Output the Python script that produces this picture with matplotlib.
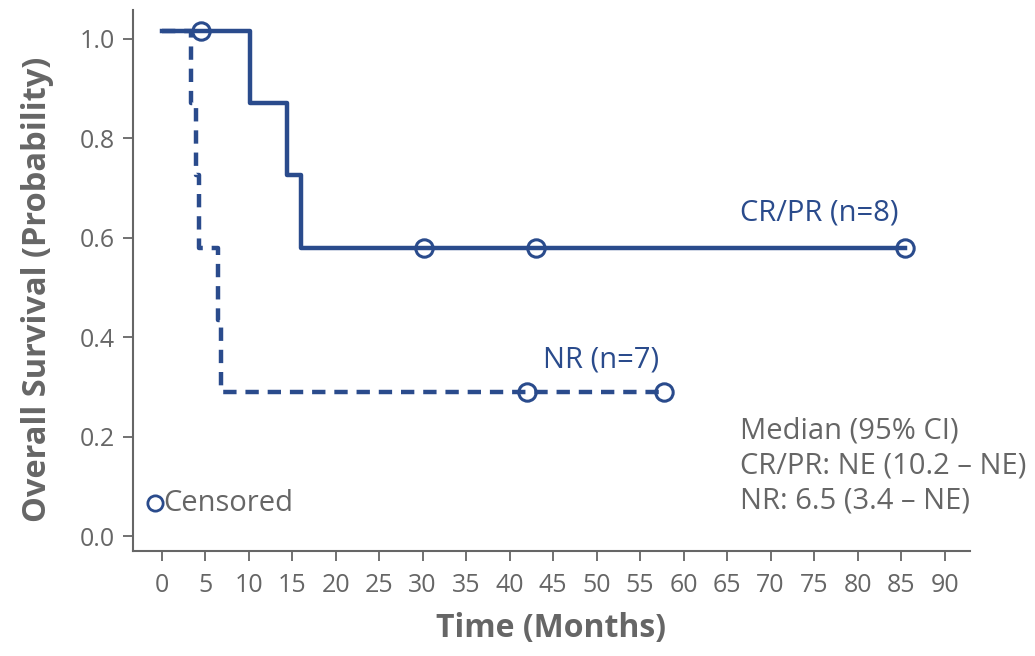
import matplotlib
matplotlib.use("Agg")
import matplotlib.pyplot as plt

# CR/PR group (solid)
crpr_times = [0, 10.2, 14.4, 16.0, 85.4]
crpr_surv = [1.015, 0.87, 0.725, 0.58, 0.58]
crpr_cens_t = [4.5, 30.1, 43.0, 85.4]
crpr_cens_s = [1.015, 0.58, 0.58, 0.58]

# NR group (dashed)
nr_times = [0, 3.4, 4.0, 4.3, 6.5, 6.8, 57.8]
nr_surv = [1.015, 0.87, 0.725, 0.58, 0.435, 0.29, 0.29]
nr_cens_t = [42.0, 57.8]
nr_cens_s = [0.29, 0.29]

xticks = list(range(0, 95, 5))
yticks = [0.0, 0.2, 0.4, 0.6, 0.8, 1.0]

median_lines = ["Median (95% CI)", "CR/PR: NE (10.2 \u2013 NE)", "NR: 6.5 (3.4 \u2013 NE)"]

BLUE = "#2a4b8c"
GRAY = "#666666"
FONT = ["Open Sans", "DejaVu Sans"]
plt.rcParams['font.family'] = FONT

fig = plt.figure(figsize=(10.35, 6.56), dpi=100)
ax = fig.add_axes([0.1285, 0.16, 0.8085, 0.825])

ax.step(crpr_times, crpr_surv, where="post", color=BLUE, lw=3.2)
ax.step(nr_times, nr_surv, where="post", color=BLUE, lw=3.2, linestyle=(0, (3, 2)))
ax.plot(crpr_cens_t, crpr_cens_s, 'o', ms=12.5, mfc="none", mec=BLUE, mew=2.2, ls="none")
ax.plot(nr_cens_t, nr_cens_s, 'o', ms=12.5, mfc="none", mec=BLUE, mew=2.2, ls="none")

ax.set_xlim(-3.3, 92.9)
ax.set_ylim(-0.03, 1.058)
ax.set_xticks(xticks)
ax.set_yticks(yticks)
ax.set_yticklabels([f"{v:.1f}" for v in yticks])

for s in ["top", "right"]:
    ax.spines[s].set_visible(False)
for s in ["left", "bottom"]:
    ax.spines[s].set_color(GRAY)
    ax.spines[s].set_linewidth(1.5)
ax.tick_params(axis="both", colors=GRAY, labelsize=18, length=7, width=1.3, direction="out")
ax.tick_params(axis="x", pad=9)
ax.tick_params(axis="y", pad=6)

ax.set_xlabel("Time (Months)", fontsize=23, fontweight="bold", color=GRAY, labelpad=10)
fig.text(38 / 1035, 1 - 289 / 656, "Overall Survival (Probability)", fontsize=23.5,
         fontweight="bold", color=GRAY, rotation=90, ha="center", va="center")

ax.text(66.5, 0.65, "CR/PR (n=8)", color=BLUE, fontsize=21, va="center", ha="left")
ax.text(43.8, 0.354, "NR (n=7)", color=BLUE, fontsize=21, va="center", ha="left")

for yv, line in zip([0.211, 0.141, 0.070], median_lines):
    ax.text(66.5, yv, line, color=GRAY, fontsize=21, va="center", ha="left")

ax.plot([-0.75], [0.066], 'o', ms=11, mfc="none", mec=BLUE, mew=2.0, clip_on=False)
ax.text(0.2, 0.066, "Censored", color=GRAY, fontsize=21, va="center", ha="left")

fig.savefig("out.png", dpi=100)
